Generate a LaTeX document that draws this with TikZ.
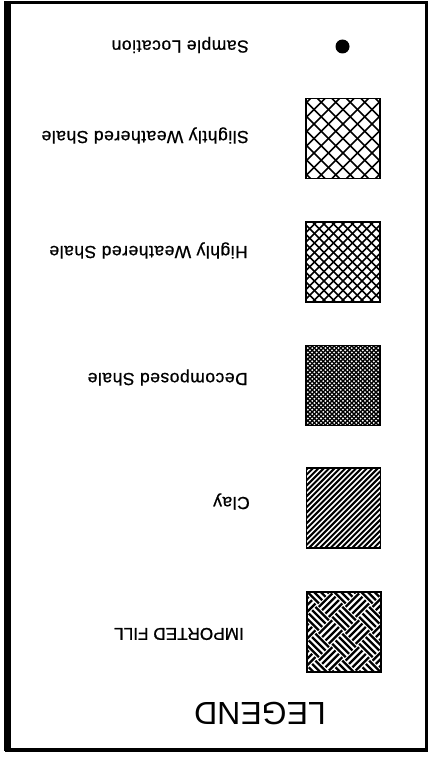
\documentclass[tikz,border=0pt]{standalone}
\usepackage{fontspec}
\setmainfont{Liberation Sans}
\newfontfamily\lblfont[LetterSpace=3,FakeBold=0.8]{Liberation Sans}
\newfontfamily\capfont[FakeBold=0.8]{Liberation Sans}
\begin{document}
\begin{tikzpicture}[x=1pt,y=-1pt,
  lbl/.style={rotate=180,anchor=base west,inner sep=0pt,font=\lblfont\fontsize{17.5}{20}\selectfont},
  swatch/.style={draw,line width=1.3pt,minimum width=74pt,minimum height=80pt,inner sep=0pt}
]
\useasboundingbox (0,0) rectangle (435,760);
% frame
\draw[line width=3pt] (7,2.5) rectangle (426.5,749);
\draw[line width=7pt] (7.5,1) -- (7.5,751);
\draw[line width=4pt] (5,749.5) -- (428,749.5);

% sample location
\node[circle,fill=black,minimum size=14pt,inner sep=0pt] (dot) at (342.5,46.5) {};
\node[lbl] (tsample) at (249,40.5) {Sample Location};

% slightly weathered shale
\node[swatch,path picture={
  \begin{scope}[shift={(path picture bounding box.center)}]
  \foreach \k in {-10,...,10}{
    \draw[line width=1.5pt] (\k*14.5-60,-60) -- (\k*14.5+60,60);
    \draw[line width=1.5pt] (\k*14.5-60,60) -- (\k*14.5+60,-60);}
  \end{scope}}] (s1) at (343,138.5) {};
\node[lbl] (t1) at (249,131) {Slightly Weathered Shale};

% highly weathered shale
\node[swatch,path picture={
  \begin{scope}[shift={(path picture bounding box.center)}]
  \foreach \k in {-14,...,14}{
    \draw[line width=1.5pt] (\k*9.5-60,-60) -- (\k*9.5+60,60);
    \draw[line width=1.5pt] (\k*9.5-60,60) -- (\k*9.5+60,-60);}
  \end{scope}}] (s2) at (343,262) {};
\node[lbl] (t2) at (248,246) {Highly Weathered Shale};

% decomposed shale
\node[swatch,path picture={
  \begin{scope}[shift={(path picture bounding box.center)}]
  \foreach \k in {-30,...,30}{
    \draw[line width=1.3pt] (\k*4.4-60,-60) -- (\k*4.4+60,60);
    \draw[line width=1.3pt] (\k*4.4-60,60) -- (\k*4.4+60,-60);}
  \end{scope}}] (s3) at (343,385.5) {};
\node[lbl] (t3) at (248,373) {Decomposed Shale};

% clay
\node[swatch,path picture={
  \begin{scope}[shift={(path picture bounding box.center)}]
  \foreach \k in {-25,...,25}{
    \draw[line width=2pt] (\k*5.4-60,60) -- (\k*5.4+60,-60);}
  \end{scope}}] (s4) at (343.5,508) {};
\node[lbl] (t4) at (250,497) {Clay};

% imported fill (basket weave, blocks turned 45 degrees)
\node[swatch,path picture={
  \begin{scope}[shift={(path picture bounding box.center)}]
  \foreach \i in {-4,...,3}{
    \foreach \j in {-4,...,3}{
      \pgfmathtruncatemacro{\parity}{mod(\i+\j+8,2)}
      \foreach \o in {2.4,7.1,11.9,16.6}{
        \ifnum\parity=0
          \pgfmathsetmacro{\ua}{\i*19}\pgfmathsetmacro{\va}{\j*19+\o}
          \pgfmathsetmacro{\ub}{\i*19+19}\pgfmathsetmacro{\vb}{\j*19+\o}
        \else
          \pgfmathsetmacro{\ua}{\i*19+\o}\pgfmathsetmacro{\va}{\j*19}
          \pgfmathsetmacro{\ub}{\i*19+\o}\pgfmathsetmacro{\vb}{\j*19+19}
        \fi
        \draw[line width=2.3pt] ({0.7071*(\ua-\va)},{0.7071*(\ua+\va)}) -- ({0.7071*(\ub-\vb)},{0.7071*(\ub+\vb)});
      }}}
  \end{scope}}] (s5) at (344,632) {};
\node[lbl,font=\capfont\fontsize{17.2}{20}\selectfont] (t5) at (244,628) {IMPORTED FILL};

% title
\node[rotate=180,anchor=base west,inner sep=0pt,font=\fontsize{32}{36}\selectfont] (title) at (326,702) {LEGEND};
\end{tikzpicture}
\end{document}
